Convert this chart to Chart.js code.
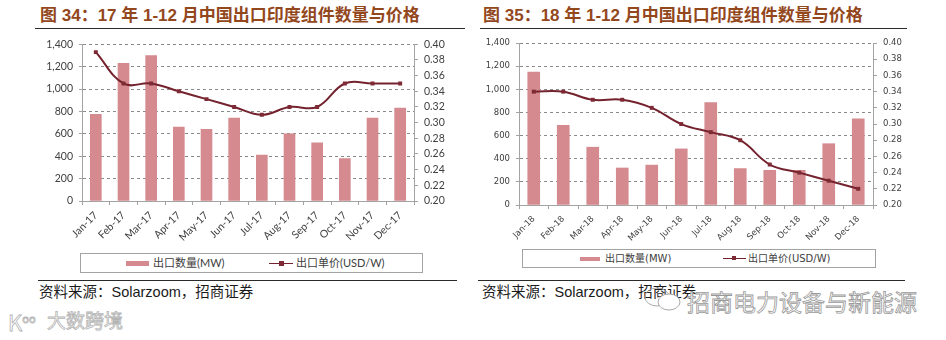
<!DOCTYPE html>
<html lang="zh-CN">
<head>
<meta charset="utf-8">
<script src="https://cdn.jsdelivr.net/npm/chart.js@4.4.1/dist/chart.umd.min.js"></script>
<style>
  body { margin: 0; background: #fff; }
  #page { position: relative; width: 946px; height: 340px; overflow: hidden; background: #fff; }
  .title { position: absolute; top: 6px; font: bold 17px/20px "Liberation Sans", "Noto Sans CJK SC", sans-serif; color: #93471d; white-space: nowrap; }
  .rule { position: absolute; height: 0; border-top: 1.5px solid #2a2a2a; }
  canvas { position: absolute; }
  .legend { position: absolute; box-sizing: border-box; border: 1px solid #a3a3a3; background: #fff; color: #404040; }
  .legend span { position: absolute; white-space: nowrap; }
  .swatch-bar { position: absolute; background: #d48a8e; }
  .swatch-line { position: absolute; height: 0; border-top: 1.5px solid #74232e; }
  .swatch-dot { position: absolute; width: 5px; height: 5px; background: #7e2a35; }
  .source { position: absolute; top: 283px; font: 14.5px/18px "Liberation Sans", "Noto Sans CJK SC", sans-serif; color: #1a1a1a; white-space: nowrap; }
  .mark { position: absolute; white-space: nowrap; color: #fff; -webkit-text-stroke: 0.8px #b4b4b4; font-family: "Noto Sans CJK SC", sans-serif; }
</style>
</head>
<body>
<div id="page">
  <div class="title" style="left:40px">图 34：17 年 1-12 月中国出口印度组件数量与价格</div>
  <div class="rule" style="left:35px; width:430px; top:28px"></div>
  <div class="title" style="left:483px">图 35：18 年 1-12 月中国出口印度组件数量与价格</div>
  <div class="rule" style="left:480px; width:427px; top:28px"></div>

  <canvas id="chart17" width="470" height="218" style="left:0; top:32px"></canvas>
  <canvas id="chart18" width="476" height="218" style="left:470px; top:32px"></canvas>

  <div class="legend" style="left:80px; top:253px; width:343px; height:20px; font:11px/18px Lato, 'Noto Sans CJK SC', sans-serif">
    <div class="swatch-bar" style="left:45px; top:7px; width:23px; height:5px"></div>
    <span style="left:72px; top:0">出口数量(MW)</span>
    <div class="swatch-line" style="left:188px; top:9px; width:24px"></div>
    <div class="swatch-dot" style="left:198px; top:7px"></div>
    <span style="left:215px; top:0">出口单价(USD/W)</span>
  </div>
  <div class="legend" style="left:522px; top:249px; width:354px; height:19px; font:10px/17px 'DejaVu Sans', 'Noto Sans CJK SC', sans-serif">
    <div class="swatch-bar" style="left:57px; top:7px; width:20px; height:4px"></div>
    <span style="left:82px; top:0">出口数量(MW)</span>
    <div class="swatch-line" style="left:200px; top:8px; width:23px"></div>
    <div class="swatch-dot" style="left:209px; top:6px; width:4px; height:4px"></div>
    <span style="left:225px; top:0">出口单价(USD/W)</span>
  </div>

  <div class="rule" style="left:38px; width:419px; top:280px; border-top-width:1px"></div>
  <div class="rule" style="left:478px; width:427px; top:280px; border-top-width:1px"></div>
  <div class="source" style="left:39px">资料来源：Solarzoom，招商证券</div>
  <div class="source" style="left:482px">资料来源：Solarzoom，招商证券</div>

  <div class="mark" style="left:8px; top:305px; font-size:22px">K<sup style="font-size:11px">oo</sup></div>
  <div class="mark" style="left:47px; top:306px; font-size:19px">大数跨境</div>
  <svg style="position:absolute; left:642px; top:286px" width="42" height="26">
    <ellipse cx="15" cy="11" rx="12" ry="9" fill="none" stroke="#a8a8a8" stroke-width="1"/>
    <ellipse cx="27" cy="16" rx="11" ry="8" fill="#fff" stroke="#a8a8a8" stroke-width="1"/>
  </svg>
  <div class="mark" style="left:687px; top:284px; font-size:23px; -webkit-text-stroke-color:#999">招商电力设备与新能源</div>
</div>

<script>
// monthly module exports from China to India
const MONTHS_2017 = ['Jan-17', 'Feb-17', 'Mar-17', 'Apr-17', 'May-17', 'Jun-17', 'Jul-17', 'Aug-17', 'Sep-17', 'Oct-17', 'Nov-17', 'Dec-17'];
const VOLUME_2017 = [775, 1230, 1300, 660, 640, 740, 410, 600, 520, 380, 740, 830];
const PRICE_2017 = [0.39, 0.35, 0.35, 0.34, 0.33, 0.32, 0.31, 0.32, 0.32, 0.35, 0.35, 0.35];

const MONTHS_2018 = ['Jan-18', 'Feb-18', 'Mar-18', 'Apr-18', 'May-18', 'Jun-18', 'Jul-18', 'Aug-18', 'Sep-18', 'Oct-18', 'Nov-18', 'Dec-18'];
const VOLUME_2018 = [1150, 690, 500, 320, 345, 485, 885, 315, 300, 300, 530, 745];
const PRICE_2018 = [0.34, 0.34, 0.33, 0.33, 0.32, 0.30, 0.29, 0.28, 0.25, 0.24, 0.23, 0.22];

const VOLUME_TICKS = [0, 200, 400, 600, 800, 1000, 1200, 1400];
const PRICE_TICKS = [0.20, 0.22, 0.24, 0.26, 0.28, 0.30, 0.32, 0.34, 0.36, 0.38, 0.40];

// Colors
const BAR_COLOR = '#d48a8e';
const LINE_COLOR = '#74232e';
const MARKER_COLOR = '#7e2a35';
const TEXT_COLOR = '#404040';
const AXIS_COLOR = '#a3a3a3';
const GRID_COLOR = '#8a8a8a';

function buildChart(id, months, volumes, prices, look) {
    const font = { family: look.family, size: look.size };
    return new Chart(document.getElementById(id), {
        type: 'bar',
        data: {
            labels: months,
            datasets: [{
                type: 'line',
                label: '出口单价(USD/W)',
                data: prices,
                yAxisID: 'y1',
                order: 0,
                borderColor: LINE_COLOR,
                borderWidth: 2,
                tension: 0.4,
                pointStyle: 'rect',
                pointRadius: 2.8,
                pointBackgroundColor: MARKER_COLOR,
                pointBorderColor: MARKER_COLOR,
                pointBorderWidth: 0
            }, {
                label: '出口数量(MW)',
                data: volumes,
                yAxisID: 'y',
                order: 1,
                backgroundColor: BAR_COLOR,
                barThickness: look.barWidth
            }]
        },
        options: {
            responsive: false,
            animation: false,
            events: [],
            layout: { padding: { top: look.top, left: 0, right: 0, bottom: 0 } },
            plugins: { legend: { display: false }, tooltip: { enabled: false } },
            scales: {
                x: {
                    grid: { offset: true, drawOnChartArea: false, tickLength: 4, color: AXIS_COLOR },
                    border: { color: AXIS_COLOR },
                    ticks: { font: font, color: TEXT_COLOR, minRotation: 45, maxRotation: 45, autoSkip: false, padding: look.xPad },
                    afterFit: (scale) => { scale.height = look.xHeight; }
                },
                y: {
                    position: 'left',
                    min: 0,
                    max: 1400,
                    afterBuildTicks: (scale) => { scale.ticks = VOLUME_TICKS.map(v => ({ value: v })); },
                    ticks: { font: font, color: TEXT_COLOR, padding: 6, callback: (v) => v.toLocaleString('en-US') },
                    grid: { color: GRID_COLOR, tickLength: 3, tickColor: AXIS_COLOR, borderDash: [3, 3] },
                    border: { color: AXIS_COLOR, dash: [3, 3] },
                    afterFit: (scale) => { scale.width = look.leftWidth; }
                },
                y1: {
                    position: 'right',
                    min: 0.2,
                    max: 0.4,
                    afterBuildTicks: (scale) => { scale.ticks = PRICE_TICKS.map(v => ({ value: v })); },
                    ticks: { font: font, color: TEXT_COLOR, padding: 6, callback: (v) => v.toFixed(2) },
                    grid: { drawOnChartArea: false, tickLength: 4, color: AXIS_COLOR },
                    border: { color: AXIS_COLOR },
                    afterFit: (scale) => { scale.width = look.rightWidth; }
                }
            }
        }
    });
}

buildChart('chart17', MONTHS_2017, VOLUME_2017, PRICE_2017, {
    family: 'Lato', size: 10.5, top: 12, leftWidth: 82, rightWidth: 56, xHeight: 49, xPad: 4, barWidth: 11
});
buildChart('chart18', MONTHS_2018, VOLUME_2018, PRICE_2018, {
    family: 'DejaVu Sans', size: 8.5, top: 9, leftWidth: 49, rightWidth: 73, xHeight: 45, xPad: 5, barWidth: 12
});
</script>
</body>
</html>
